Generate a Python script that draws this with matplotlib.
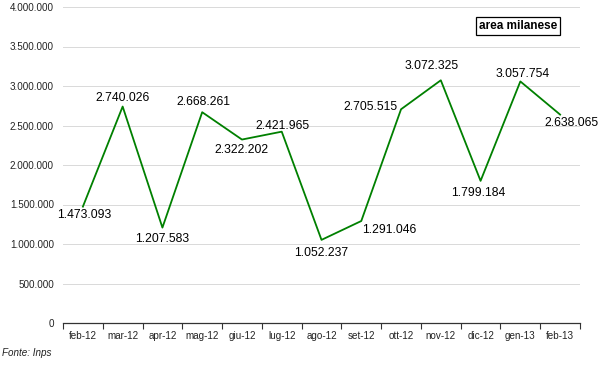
import matplotlib

matplotlib.use("Agg")
import matplotlib.pyplot as plt
from matplotlib.ticker import FuncFormatter, FixedLocator, NullFormatter

plt.rcParams["font.family"] = ["Liberation Sans", "DejaVu Sans"]

months = ["feb-12", "mar-12", "apr-12", "mag-12", "giu-12", "lug-12", "ago-12",
          "set-12", "ott-12", "nov-12", "dic-12", "gen-13", "feb-13"]
values = [1473093, 2740026, 1207583, 2668261, 2322202, 2421965, 1052237,
          1291046, 2705515, 3072325, 1799184, 3057754, 2638065]

# label offsets in pixels (dx, dy) and alignment per point
label_pos = [(1, -8, "center"), (0, 9, "center"), (0, -11, "center"), (1, 10, "center"),
             (0, -10, "center"), (1, 6, "center"), (0, -13, "center"), (1, -9, "left"),
             (-3, 2, "right"), (-9, 14, "center"), (-2, -12, "center"), (2, 7, "center"),
             (-16, -8, "left")]


def dotted_thousands(v, _pos):
    return f"{int(v):,}".replace(",", ".")


fig = plt.figure(figsize=(6, 3.65), dpi=100)
ax = fig.add_axes([63 / 600, 42 / 365, 517 / 600, 316 / 365])

x = list(range(len(months)))
ax.plot(x, values, color="#008000", linewidth=1.3)

for xi, v, (dx, dy, ha) in zip(x, values, label_pos):
    ax.annotate(dotted_thousands(v, None), (xi, v), xytext=(dx, dy), textcoords="offset pixels",
                ha=ha, va="center", fontsize=8.7, color="black")

ax.set_xlim(-0.5, len(months) - 0.5)
ax.set_ylim(0, 4000000)
ax.set_yticks(range(0, 4000001, 500000))
ax.yaxis.set_major_formatter(FuncFormatter(dotted_thousands))
ax.tick_params(axis="y", length=0, labelsize=7.1, pad=6.5, labelcolor="#222222")
ax.grid(axis="y", color="#a8a8a8", linestyle=(0, (1.2, 1.2)), linewidth=0.6)
ax.set_axisbelow(True)

ax.xaxis.set_major_locator(FixedLocator([i - 0.5 for i in range(len(months) + 1)]))
ax.xaxis.set_major_formatter(NullFormatter())
ax.xaxis.set_minor_locator(FixedLocator(x))
ax.set_xticklabels(months, minor=True)
ax.tick_params(axis="x", which="major", length=4, width=0.8, color="#333333")
ax.tick_params(axis="x", which="minor", length=0, labelsize=7.1, pad=6, labelcolor="#222222")

for side in ("top", "right", "left"):
    ax.spines[side].set_visible(False)
ax.spines["bottom"].set_color("#333333")
ax.spines["bottom"].set_linewidth(0.9)

fig.text(518 / 600, 1 - 26 / 365, "area milanese", ha="center", va="center", fontsize=8.5,
         fontweight="bold", bbox=dict(boxstyle="square,pad=0.25", facecolor="white",
                                      edgecolor="black", linewidth=0.9))
fig.text(2 / 600, 1 - 353 / 365, "Fonte: Inps", ha="left", va="center", fontsize=7.1,
         style="italic", color="#222222")

fig.savefig("out.png", dpi=100)
plt.close(fig)
